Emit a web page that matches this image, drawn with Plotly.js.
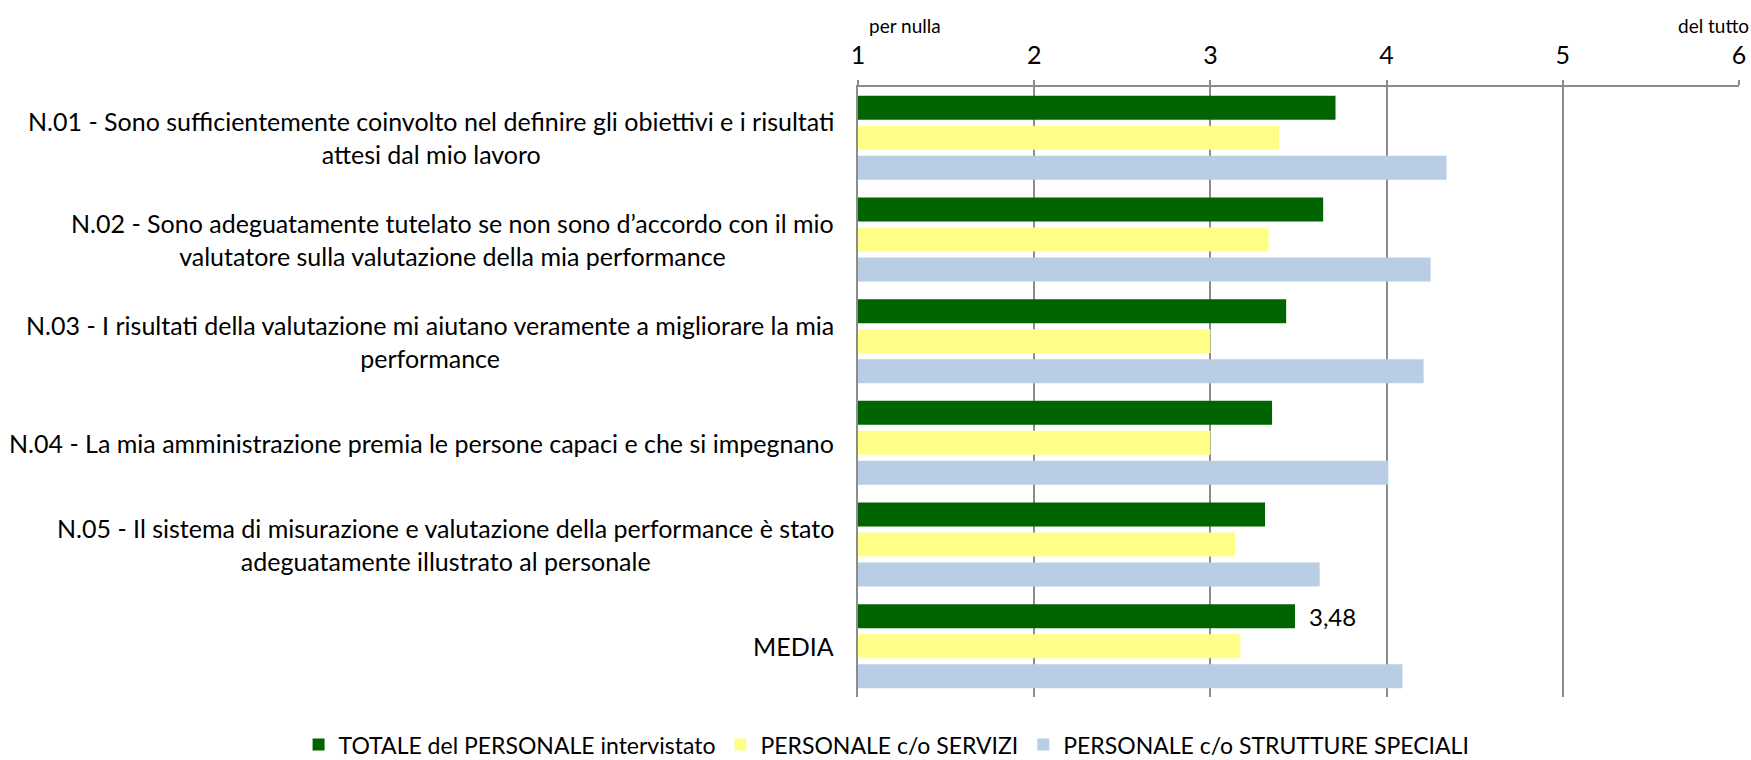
<!DOCTYPE html>
<html>
<head>
<meta charset="utf-8">
<script src="https://cdn.plot.ly/plotly-3.0.1.min.js"></script>
<style>
  html, body { margin: 0; padding: 0; background: #fff; }
  #chart { width: 1751px; height: 760px; }
</style>
</head>
<body>
<div id="chart"></div>
<script>
// questions, top to bottom
var categories = [
    'N.01 - Sono sufficientemente coinvolto nel definire gli obiettivi e i risultati<br>attesi dal mio lavoro',
    'N.02 - Sono adeguatamente tutelato se non sono d\u2019accordo con il mio<br>valutatore sulla valutazione della mia performance',
    'N.03 - I risultati della valutazione mi aiutano veramente a migliorare la mia<br>performance',
    'N.04 - La mia amministrazione premia le persone capaci e che si impegnano',
    'N.05 - Il sistema di misurazione e valutazione della performance \u00e8 stato<br>adeguatamente illustrato al personale',
    'MEDIA'
];

var seriesNames = [
    'TOTALE del PERSONALE intervistato',
    'PERSONALE c/o SERVIZI',
    'PERSONALE c/o STRUTTURE SPECIALI'
];

var totale = [3.71, 3.64, 3.43, 3.35, 3.31, 3.48];
var servizi = [3.39, 3.33, 3.00, 3.00, 3.14, 3.17];
var strutture = [4.34, 4.25, 4.21, 4.01, 3.62, 4.09];

// only the average of the total is labelled
var mediaLabel = '3,48';

var xTicks = [1, 2, 3, 4, 5, 6];

var colors = ['#006400', '#FFFF88', '#B9CDE5'];
var fontFamily = 'Lato, "Open Sans", sans-serif';

function barTrace(values, i) {
    return {
        type: 'bar',
        orientation: 'h',
        name: seriesNames[i],
        y: categories,
        x: values,
        base: 0,
        marker: { color: colors[i], line: { width: 0 } },
        hoverinfo: 'x+name'
    };
}

var data = [barTrace(totale, 0), barTrace(servizi, 1), barTrace(strutture, 2)];

// question labels: right aligned block, lines centred like the original
var annotations = categories.map(function (c) {
    return {
        text: c, xref: 'paper', yref: 'y',
        x: 0, y: c, xshift: -22, xanchor: 'right', yanchor: 'middle',
        align: 'center', showarrow: false,
        font: { family: fontFamily, size: 25, color: '#000' }
    };
});

annotations.push({
    text: mediaLabel, xref: 'x', yref: 'y',
    x: totale[5], y: categories[5], xshift: 12, yshift: 30,
    xanchor: 'left', yanchor: 'middle', showarrow: false,
    font: { family: fontFamily, size: 24, color: '#000' }
});

annotations.push({
    text: 'per nulla', xref: 'paper', yref: 'paper',
    x: 0.01, y: 1.0, yshift: 62, xanchor: 'left', yanchor: 'middle',
    showarrow: false, font: { family: fontFamily, size: 19, color: '#000' }
});
annotations.push({
    text: 'del tutto', xref: 'paper', yref: 'paper',
    x: 1.0, y: 1.0, xshift: 12, yshift: 62, xanchor: 'right', yanchor: 'middle',
    showarrow: false, font: { family: fontFamily, size: 19, color: '#000' }
});

var layout = {
    width: 1751,
    height: 760,
    margin: { l: 858, r: 12, t: 87, b: 63, autoexpand: false },
    paper_bgcolor: '#fff',
    plot_bgcolor: '#fff',
    font: { family: fontFamily, size: 20, color: '#000' },
    barmode: 'group',
    bargap: 0.115,
    bargroupgap: 0.2,
    showlegend: true,
    legend: {
        orientation: 'h',
        x: -0.635,
        xanchor: 'left',
        y: -0.078,
        yanchor: 'middle',
        font: { family: fontFamily, size: 23, color: '#000' },
        traceorder: 'normal'
    },
    xaxis: {
        side: 'top',
        range: [1, 6],
        tickvals: xTicks,
        ticktext: xTicks.map(String),
        showgrid: true,
        gridcolor: '#8c8c8c',
        gridwidth: 2,
        zeroline: false,
        showline: true,
        linecolor: '#8c8c8c',
        linewidth: 2,
        ticks: 'outside',
        ticklen: 5,
        tickcolor: '#8c8c8c',
        tickwidth: 2,
        ticklabelstandoff: 6,
        tickfont: { family: fontFamily, size: 25, color: '#000' },
        fixedrange: true
    },
    yaxis: {
        autorange: 'reversed',
        showline: true,
        linecolor: '#8c8c8c',
        linewidth: 2,
        ticks: '',
        showticklabels: false,
        fixedrange: true
    },
    annotations: annotations
};

Plotly.newPlot('chart', data, layout, { displayModeBar: false, staticPlot: true });
</script>
</body>
</html>
